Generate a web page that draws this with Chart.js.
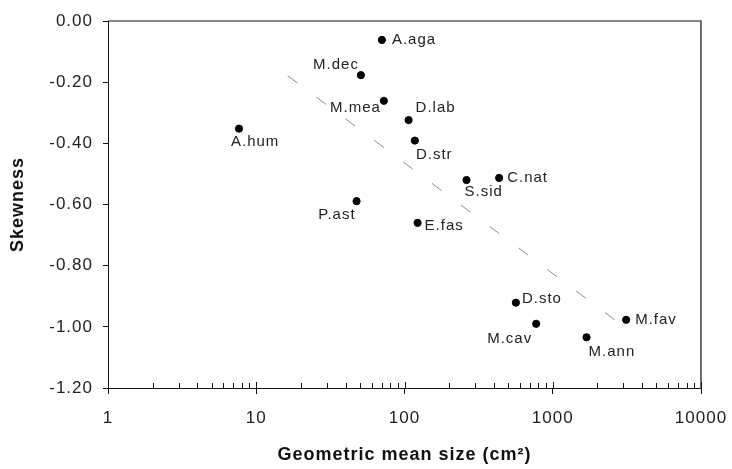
<!DOCTYPE html>
<html lang="en">
<head>
    <meta charset="utf-8">
    <title>Skewness vs geometric mean size</title>
    <style>
        body{margin: 0;background: #fff;}
        .chart-box {width: 732px;height: 469px;}
    </style>
    <script src="https://cdn.jsdelivr.net/npm/chart.js@4.4.1/dist/chart.umd.min.js"></script>
</head>
<body>
    <div class="chart-box"><canvas id="skewChart"></canvas></div>
    <script>
        // species codes, geometric mean size (cm2) and skewness
        const species = ['A.aga', 'M.dec', 'M.mea', 'D.lab', 'D.str', 'S.sid', 'C.nat',
                         'E.fas', 'A.hum', 'P.ast', 'D.sto', 'M.cav', 'M.ann', 'M.fav'];
        const meanSize = [70.4, 50.8, 72.6, 106.6, 117.5, 262, 435,
                          122.5, 7.65, 47.5, 564, 773, 1690, 3126];
        const skewness = [-0.062, -0.177, -0.261, -0.324, -0.391, -0.520, -0.513,
                          -0.660, -0.352, -0.589, -0.921, -0.990, -1.034, -0.977];
        // regression line end points
        const fitX = [16.3, 2957];
        const fitY = [-0.179, -0.996];
        const xTicks = [1, 10, 100, 1000, 10000];

        const FONT = "'Liberation Sans', Arial, Helvetica, sans-serif";

        // where each name sits relative to its dot
        const labelPos = {
            'A.aga': [10, 0, 'left'],  'M.dec': [-2, -10, 'right'], 'M.mea': [-3, 7, 'right'],
            'D.lab': [7, -12, 'left'], 'D.str': [1, 14, 'left'],    'S.sid': [-2, 12, 'left'],
            'C.nat': [8, 0, 'left'],   'E.fas': [7, 3, 'left'],     'A.hum': [-8, 13, 'left'],
            'P.ast': [-1, 14, 'right'],'D.sto': [6, -4, 'left'],    'M.cav': [-4, 15, 'right'],
            'M.ann': [2, 15, 'left'],  'M.fav': [9, 0, 'left']
        };

        // the scanned figure uses loosely spaced Helvetica
        const spacing = {
            id: 'spacing',
            beforeDraw(chart) { chart.ctx.letterSpacing = '1px'; }
        };

        const pointLabels = {
            id: 'pointLabels',
            afterDatasetsDraw(chart) {
                const ctx = chart.ctx;
                const meta = chart.getDatasetMeta(1);
                ctx.save();
                ctx.font = '15px ' + FONT;
                ctx.fillStyle = '#222';
                ctx.textBaseline = 'middle';
                meta.data.forEach((pt, i) => {
                    const p = labelPos[species[i]];
                    ctx.textAlign = p[2];
                    ctx.fillText(species[i], pt.x + p[0], pt.y + p[1]);
                });
                ctx.restore();
            }
        };

        // box frame plus minor log ticks pointing inwards
        const frame = {
            id: 'frame',
            afterDraw(chart) {
                const ctx = chart.ctx;
                const a = chart.chartArea;
                const xs = chart.scales.x;
                ctx.save();
                ctx.strokeStyle = '#111';
                ctx.lineWidth = 1.2;
                ctx.beginPath();
                ctx.moveTo(a.left, a.top);
                ctx.lineTo(a.right, a.top);
                ctx.lineTo(a.right, a.bottom);
                ctx.stroke();
                ctx.lineWidth = 1;
                ctx.beginPath();
                for (let d = 1; d < 10000; d *= 10) {
                    for (let m = 2; m <= 9; m++) {
                        const px = Math.round(xs.getPixelForValue(d * m)) + 0.5;
                        ctx.moveTo(px, a.bottom);
                        ctx.lineTo(px, a.bottom - 5);
                    }
                    const px = Math.round(xs.getPixelForValue(d * 10)) + 0.5;
                    ctx.moveTo(px, a.bottom);
                    ctx.lineTo(px, a.bottom - 6);
                }
                ctx.stroke();
                ctx.restore();
            }
        };

        new Chart(document.getElementById('skewChart').getContext('2d'), {
            type: 'scatter',
            data: {
                datasets: [
                    {
                        label: 'fit',
                        type: 'line',
                        data: fitX.map((x, i) => ({x: x, y: fitY[i]})),
                        borderColor: '#8a8a8a',
                        borderWidth: 1,
                        borderDash: [12, 24],
                        pointRadius: 0,
                        fill: false
                    },
                    {
                        label: 'species',
                        data: meanSize.map((x, i) => ({x: x, y: skewness[i]})),
                        backgroundColor: '#000',
                        borderColor: '#000',
                        pointRadius: 3.6,
                        pointHoverRadius: 3.6
                    }
                ]
            },
            options: {
                responsive: true,
                maintainAspectRatio: false,
                animation: false,
                layout: {padding: {top: 21, right: 31, left: 0, bottom: 0}},
                plugins: {legend: {display: false}, tooltip: {enabled: false}},
                scales: {
                    x: {
                        type: 'logarithmic',
                        min: 1,
                        max: 10000,
                        afterBuildTicks: s => { s.ticks = xTicks.map(v => ({value: v})); },
                        afterFit: s => { s.height = 81; s.paddingLeft = 0; s.paddingRight = 0; },
                        ticks: {
                            color: '#222',
                            font: {family: FONT, size: 17},
                            padding: 14,
                            maxRotation: 0,
                            autoSkip: false,
                            callback: v => String(v)
                        },
                        grid: {display: true, drawOnChartArea: false, drawTicks: true, tickLength: 6, color: '#111'},
                        border: {display: true, color: '#111', width: 1},
                        title: {
                            display: true,
                            text: 'Geometric mean size (cm²)',
                            color: '#111',
                            font: {family: FONT, size: 18, weight: 'bold'},
                            padding: {top: 3, bottom: 3}
                        }
                    },
                    y: {
                        min: -1.2,
                        max: 0,
                        afterFit: s => { s.width = 108; s.paddingTop = 0; s.paddingBottom = 0; },
                        ticks: {
                            stepSize: 0.2,
                            color: '#222',
                            font: {family: FONT, size: 17},
                            padding: 10,
                            callback: v => v.toFixed(2)
                        },
                        grid: {display: true, drawOnChartArea: false, drawTicks: true, tickLength: 5, color: '#111'},
                        border: {display: true, color: '#111', width: 1},
                        title: {
                            display: true,
                            text: 'Skewness',
                            color: '#111',
                            font: {family: FONT, size: 18, weight: 'bold'},
                            padding: {top: 7, bottom: 0}
                        }
                    }
                }
            },
            plugins: [spacing, pointLabels, frame]
        });
    </script>
</body>
</html>
